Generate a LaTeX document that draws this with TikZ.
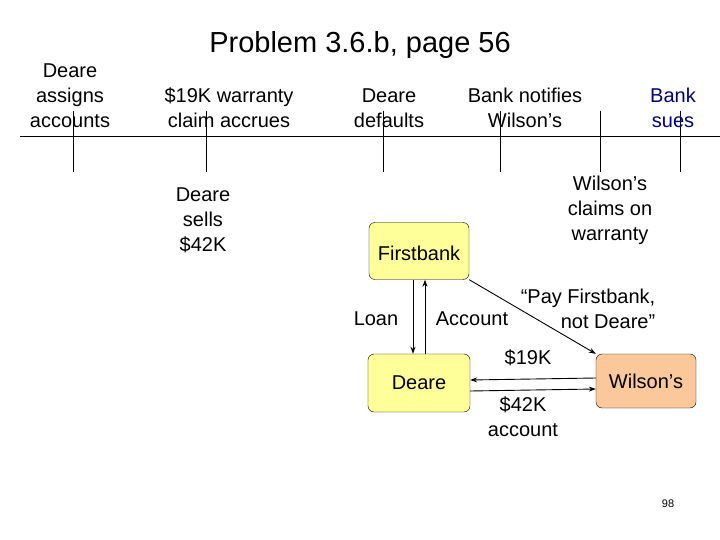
\documentclass[tikz,border=0pt]{standalone}
\usepackage{fontspec}
\setmainfont{Liberation Sans}
\usetikzlibrary{arrows.meta}
\begin{document}
\begin{tikzpicture}[x=1pt,y=-1pt,
  lbl/.style={align=center,font=\fontsize{20}{25}\selectfont,inner sep=0pt},
  bx/.style={draw=black,rounded corners=6pt,font=\fontsize{20}{24}\selectfont,inner sep=0pt},
  arr/.style={-{Stealth[length=7pt,width=5pt]},line width=0.9pt}]
\useasboundingbox (0,0) rectangle (720,540);
\node[lbl,font=\fontsize{29}{34}\selectfont] (title) at (360,45) {Problem 3.6.b, page 56};
% timeline
\coordinate (L) at (20,136); \coordinate (R) at (720,136);
\draw[line width=0.8pt] (L) -- (R);
\foreach \n/\x in {t1/73,t2/206,t3/383,t4/500,t5/600,t6/680}{
  \coordinate (\n a) at (\x,111); \coordinate (\n b) at (\x,172);
  \draw[line width=0.8pt] (\n a) -- (\n b);}
\node[lbl] (a1) at (70,96) {Deare\\assigns\\accounts};
\node[lbl] (a2) at (229,108) {\$19K warranty\\claim accrues};
\node[lbl] (a3) at (389,108) {Deare\\defaults};
\node[lbl] (a4) at (525,108) {Bank notifies\\Wilson’s};
\node[lbl,text={rgb,255:red,0;green,0;blue,128}] (a5) at (673,108) {Bank\\sues};
\node[lbl] (b1) at (203,220) {Deare\\sells\\\$42K};
\node[lbl] (b2) at (610,210) {Wilson’s\\claims on\\warranty};
% boxes
\node[bx,fill={rgb,255:red,255;green,255;blue,153},minimum width=100pt,minimum height=57pt] (fb) at (419,251) {};
\node[font=\fontsize{20}{24}\selectfont,anchor=base] at (419,260) {Firstbank};
\node[bx,fill={rgb,255:red,255;green,255;blue,153},minimum width=102pt,minimum height=58pt] (de) at (419,383) {Deare};
\node[bx,fill={rgb,255:red,250;green,200;blue,155},minimum width=100pt,minimum height=54pt] (wi) at (646,381) {Wilson’s};
% arrows
\draw[arr] ([xshift=-6pt]fb.south) -- ([xshift=-6pt]de.north);
\draw[arr] ([xshift=6pt]de.north) -- ([xshift=6pt]fb.south);
\draw[arr] ([yshift=-8pt]de.east) -- ([yshift=-8pt]wi.west);
\draw[arr] ([yshift=3pt]wi.west) -- ([yshift=3pt]de.east);
\draw[arr] (fb.south east) -- (wi.north west);
\node[lbl] (loan) at (376,319) {Loan};
\node[lbl] (acc) at (472,319) {Account};
\node[lbl] (pay) at (588,309) {“Pay Firstbank,\\\hspace*{2em}not Deare”};
\node[lbl] (k19) at (528,358) {\$19K};
\node[lbl] (k42) at (523,417) {\$42K\\account};
\node[lbl,font=\fontsize{11}{13}\selectfont] (pg) at (668,504) {98};
\end{tikzpicture}
\end{document}
